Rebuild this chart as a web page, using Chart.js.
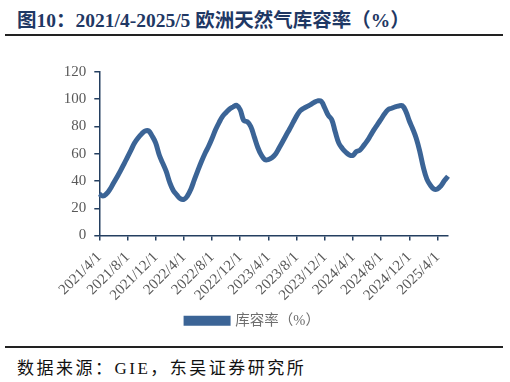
<!DOCTYPE html>
<html>
<head>
<meta charset="utf-8">
<script src="https://cdn.jsdelivr.net/npm/chart.js@4"></script>
<style>
body{margin:0;background:#fff;width:510px;height:382px;overflow:hidden;position:relative;font-family:"Liberation Serif","Noto Sans CJK SC",serif}
#title{position:absolute;left:17px;top:4px;font-size:19.5px;font-weight:bold;color:#1f3864;white-space:nowrap}
.rule{position:absolute;left:5px;width:498px;background:#222}
#src{position:absolute;left:17px;top:354px;font-size:17px;letter-spacing:2.5px;color:#111;white-space:nowrap}
#box{position:absolute;left:0;top:40px;width:510px;height:300px}
</style>
</head>
<body>
<div id="title">图10：2021/4-2025/5 欧洲天然气库容率（%）</div>
<div class="rule" style="top:34px;height:2px"></div>
<div id="box"><canvas id="myChart"></canvas></div>
<div class="rule" style="top:346px;height:1.5px"></div>
<div id="src">数据来源：GIE，东吴证券研究所</div>
<script>
// semi-monthly dates (1st and 16th)
const dates = [
  '2021/4/1','2021/4/16','2021/5/1','2021/5/16','2021/6/1','2021/6/16','2021/7/1','2021/7/16','2021/8/1','2021/8/16',
  '2021/9/1','2021/9/16','2021/10/1','2021/10/16','2021/11/1','2021/11/16','2021/12/1','2021/12/16',
  '2022/1/1','2022/1/16','2022/2/1','2022/2/16','2022/3/1','2022/3/16','2022/4/1','2022/4/16','2022/5/1','2022/5/16',
  '2022/6/1','2022/6/16','2022/7/1','2022/7/16','2022/8/1','2022/8/16','2022/9/1','2022/9/16','2022/10/1','2022/10/16',
  '2022/11/1','2022/11/16','2022/12/1','2022/12/16',
  '2023/1/1','2023/1/16','2023/2/1','2023/2/16','2023/3/1','2023/3/16','2023/4/1','2023/4/16','2023/5/1','2023/5/16',
  '2023/6/1','2023/6/16','2023/7/1','2023/7/16','2023/8/1','2023/8/16','2023/9/1','2023/9/16','2023/10/1','2023/10/16',
  '2023/11/1','2023/11/16','2023/12/1','2023/12/16',
  '2024/1/1','2024/1/16','2024/2/1','2024/2/16','2024/3/1','2024/3/16','2024/4/1','2024/4/16','2024/5/1','2024/5/16',
  '2024/6/1','2024/6/16','2024/7/1','2024/7/16','2024/8/1','2024/8/16','2024/9/1','2024/9/16','2024/10/1','2024/10/16',
  '2024/11/1','2024/11/16','2024/12/1','2024/12/16',
  '2025/1/1','2025/1/16','2025/2/1','2025/2/16','2025/3/1','2025/3/16','2025/4/1','2025/4/16','2025/5/1','2025/5/16'
];

// 库容率 (%)
const storage = [
  30.5, 29.0, 30.5, 33.8, 38.3, 42.8, 47.4, 52.4, 57.6, 62.7,
  67.9, 71.6, 74.5, 76.7, 76.8, 73.0, 68.0, 59.3,
  53.1, 47.0, 38.9, 33.1, 29.8, 27.0, 26.5, 29.0, 34.0, 41.0,
  47.8, 54.3, 60.2, 65.3, 71.2, 77.6, 82.9, 87.4, 90.3, 92.9,
  94.4, 95.5, 92.3, 84.5,
  83.5, 80.0, 72.4, 64.6, 59.0, 55.7, 55.7, 57.0, 59.6, 64.0,
  68.6, 73.4, 78.0, 82.8, 87.6, 91.5, 93.3, 94.7, 96.0, 97.7,
  98.8, 98.5, 93.6, 88.2,
  85.0, 75.9, 67.8, 63.9, 61.1, 59.1, 58.8, 61.6, 62.7, 65.8,
  69.2, 73.4, 77.7, 81.6, 85.4, 89.3, 92.4, 93.4, 94.4, 95.0,
  95.3, 91.3, 84.2, 78.2,
  71.2, 61.6, 50.0, 41.4, 36.9, 34.1, 34.2, 36.5, 40.3, 43.5
];

const tickLabels = ['2021/4/1','2021/8/1','2021/12/1','2022/4/1','2022/8/1','2022/12/1','2023/4/1',
  '2023/8/1','2023/12/1','2024/4/1','2024/8/1','2024/12/1','2025/4/1'];

const axisColor = '#243f60';
const lineColor = '#3b6496';

Chart.defaults.font.family = '"Liberation Serif", "Noto Sans CJK SC", serif';

const ctx = document.getElementById('myChart');
new Chart(ctx, {
  type: 'line',
  data: {
    labels: dates,
    datasets: [{
      label: '库容率（%）',
      data: storage,
      borderColor: lineColor,
      backgroundColor: lineColor,
      borderWidth: 5,
      pointRadius: 0,
      tension: 0.4
    }]
  },
  options: {
    responsive: true,
    maintainAspectRatio: false,
    animation: false,
    layout: { padding: { left: 58, right: 62, top: 32, bottom: 2 } },
    plugins: {
      tooltip: { enabled: false },
      legend: {
        position: 'bottom',
        labels: { boxWidth: 42, boxHeight: 5, color: '#6e6e6e', font: { size: 14.5 }, padding: 8 }
      }
    },
    scales: {
      x: {
        afterBuildTicks: s => { s.ticks = s.ticks.filter(t => tickLabels.includes(dates[t.value])); },
        afterFit: s => { s.height = 70; },
        ticks: { autoSkip: false, maxRotation: 45, minRotation: 45, color: '#595959', font: { size: 15 }, padding: 8 },
        grid: { drawOnChartArea: false, tickLength: 5, color: axisColor, lineWidth: 1.5 },
        border: { color: axisColor, width: 1.5 }
      },
      y: {
        min: 0,
        max: 120,
        afterFit: s => { s.width = 41.3; },
        ticks: { stepSize: 20, color: '#595959', font: { size: 15 }, padding: 8 },
        grid: { drawOnChartArea: false, tickLength: 5, color: axisColor, lineWidth: 1.5 },
        border: { color: axisColor, width: 1.5 }
      }
    }
  }
});
</script>
</body>
</html>
